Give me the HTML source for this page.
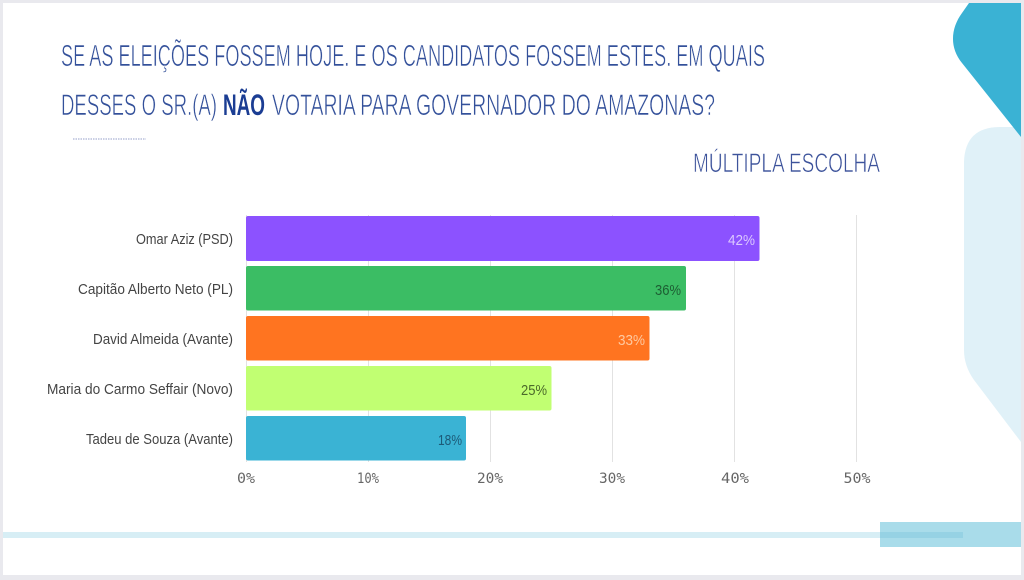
<!DOCTYPE html>
<html><head><meta charset="utf-8"><style>
html,body{margin:0;padding:0;background:#e9e9ee;}
svg{display:block;}
</style></head><body>
<svg width="1024" height="580" viewBox="0 0 1024 580" xmlns="http://www.w3.org/2000/svg">
<rect x="0" y="0" width="1024" height="580" fill="#e9e9ee"/>
<rect x="3" y="3" width="1018" height="572" fill="#ffffff"/>

<!-- right decorations -->
<path d="M1021,127 L1000,127 Q965,127 964,162 L964,350 Q964,366 974,380 L1021,442 Z" fill="#e0f1f8"/>
<path d="M969,3 L1021,3 L1021,137 L962,63 C949,47 951,28 962,13 Z" fill="#3ab2d4"/>

<!-- title -->
<g font-family="'Liberation Sans', 'DejaVu Sans', sans-serif" fill="#33509a" stroke="#ffffff" stroke-width="0.6" paint-order="fill">
<text x="61" y="66" font-size="31" textLength="704" lengthAdjust="spacingAndGlyphs">SE AS ELEIÇÕES FOSSEM HOJE. E OS CANDIDATOS FOSSEM ESTES. EM QUAIS</text>
<text x="61" y="115" font-size="30" textLength="156" lengthAdjust="spacingAndGlyphs">DESSES O SR.(A)</text>
<text x="272" y="115" font-size="30" textLength="443" lengthAdjust="spacingAndGlyphs">VOTARIA PARA GOVERNADOR DO AMAZONAS?</text>
<text x="693" y="172" font-size="27" fill="#3d539b" textLength="187" lengthAdjust="spacingAndGlyphs">MÚLTIPLA ESCOLHA</text>
</g>
<text x="223" y="115" font-family="'Liberation Sans', 'DejaVu Sans', sans-serif" font-size="30" font-weight="bold" fill="#1b3d93" textLength="42" lengthAdjust="spacingAndGlyphs">NÃO</text>
<line x1="73" y1="139" x2="146" y2="139" stroke="#aab2d4" stroke-width="1.3" stroke-dasharray="1.5,1"/>

<!-- grid -->
<g stroke="#e2e2e2" stroke-width="1">
<line x1="246.5" y1="215" x2="246.5" y2="462"/>
<line x1="368.5" y1="215" x2="368.5" y2="462"/>
<line x1="490.5" y1="215" x2="490.5" y2="462"/>
<line x1="612.5" y1="215" x2="612.5" y2="462"/>
<line x1="734.5" y1="215" x2="734.5" y2="462"/>
<line x1="856.5" y1="215" x2="856.5" y2="462"/>
</g>

<!-- bars -->
<rect x="246" y="216" width="513.5" height="45" rx="2" fill="#8c52ff"/>
<rect x="246" y="266" width="440" height="44.5" rx="2" fill="#3bbd64"/>
<rect x="246" y="316" width="403.5" height="44.5" rx="2" fill="#ff7420"/>
<rect x="246" y="366" width="305.5" height="44.5" rx="2" fill="#c1ff72"/>
<rect x="246" y="416" width="220" height="44.5" rx="2" fill="#3ab3d4"/>

<!-- category labels -->
<g font-family="'Liberation Sans', 'DejaVu Sans', sans-serif" font-size="15" fill="#444444" text-anchor="end">
<text x="233" y="244" textLength="97" lengthAdjust="spacingAndGlyphs">Omar Aziz (PSD)</text>
<text x="233" y="294" textLength="155" lengthAdjust="spacingAndGlyphs">Capitão Alberto Neto (PL)</text>
<text x="233" y="344" textLength="140" lengthAdjust="spacingAndGlyphs">David Almeida (Avante)</text>
<text x="233" y="394" textLength="186" lengthAdjust="spacingAndGlyphs">Maria do Carmo Seffair (Novo)</text>
<text x="233" y="444" textLength="147" lengthAdjust="spacingAndGlyphs">Tadeu de Souza (Avante)</text>
</g>

<!-- value labels -->
<g font-family="'Liberation Sans', 'DejaVu Sans', sans-serif" font-size="15" text-anchor="end">
<text x="755" y="245" fill="#dcc9ff" textLength="27" lengthAdjust="spacingAndGlyphs">42%</text>
<text x="681" y="295" fill="#1d5e33" textLength="26" lengthAdjust="spacingAndGlyphs">36%</text>
<text x="645" y="345" fill="#ffc9a0" textLength="27" lengthAdjust="spacingAndGlyphs">33%</text>
<text x="547" y="395" fill="#4b6a2a" textLength="26" lengthAdjust="spacingAndGlyphs">25%</text>
<text x="462" y="445" fill="#1d5b78" textLength="24" lengthAdjust="spacingAndGlyphs">18%</text>
</g>

<!-- tick labels -->
<g font-family="'DejaVu Sans Mono', 'Liberation Mono', monospace" font-size="14" fill="#666" text-anchor="middle">
<text x="246" y="483" textLength="18" lengthAdjust="spacingAndGlyphs">0%</text>
<text x="368" y="483" textLength="22" lengthAdjust="spacingAndGlyphs">10%</text>
<text x="490" y="483" textLength="26" lengthAdjust="spacingAndGlyphs">20%</text>
<text x="612" y="483" textLength="26" lengthAdjust="spacingAndGlyphs">30%</text>
<text x="735" y="483" textLength="28" lengthAdjust="spacingAndGlyphs">40%</text>
<text x="857" y="483" textLength="27" lengthAdjust="spacingAndGlyphs">50%</text>
</g>

<!-- bottom band -->
<rect x="3" y="532" width="960" height="6" fill="#d7eef5"/>
<rect x="880" y="522" width="141" height="25" fill="#a9dcea"/>
<rect x="880" y="532" width="83" height="6" fill="#96d2e4"/>
</svg>
</body></html>
